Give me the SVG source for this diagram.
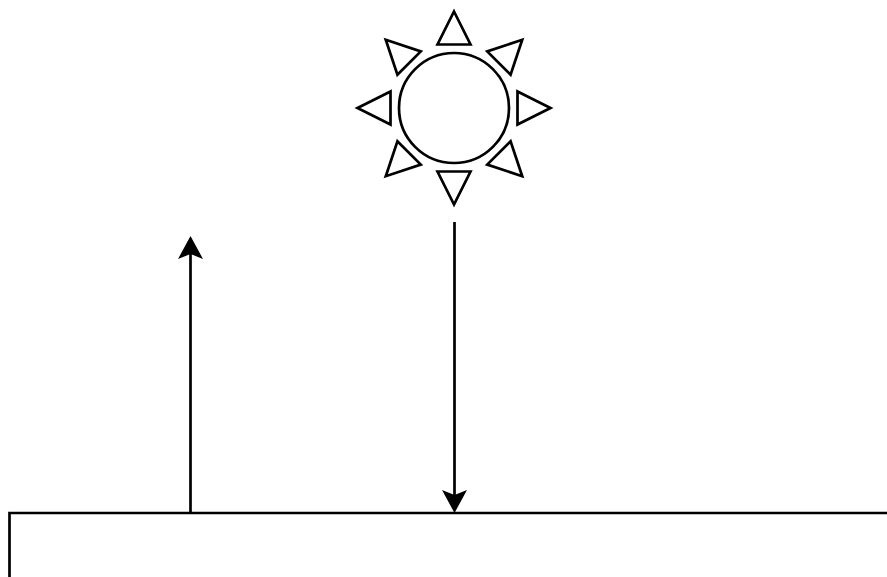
<svg xmlns="http://www.w3.org/2000/svg" width="887" height="577" viewBox="0 0 887 577">
<style>
.s{fill:#fff;stroke:#000;stroke-width:2.700}
.l{fill:none;stroke:#000;stroke-width:2.700}
.h{fill:#000;stroke:none}
</style>
<defs><polygon id="ray" class="s" points="0,-96.500 16.500,-63.500 -16.500,-63.500"/></defs>
<rect width="887" height="577" fill="#fff"/>
<g id="sun">
<circle class="s" cx="454" cy="108" r="55"/>
<g transform="translate(454 108)">
<use href="#ray"/>
<use href="#ray" transform="rotate(45)"/>
<use href="#ray" transform="rotate(90)"/>
<use href="#ray" transform="rotate(135)"/>
<use href="#ray" transform="rotate(180)"/>
<use href="#ray" transform="rotate(225)"/>
<use href="#ray" transform="rotate(270)"/>
<use href="#ray" transform="rotate(315)"/>
</g>
</g>
<g id="ground"><path class="l" d="M9.500 577V513H887"/></g>
<g id="connectors">
<path class="l" d="M190.500 513V250"/>
<path class="h" d="M190.500 236L203 259L190.500 254L178 259Z"/>
<path class="l" d="M454.500 222V500"/>
<path class="h" d="M454.500 513L442 490L454.500 495L467 490Z"/>
</g>
</svg>
